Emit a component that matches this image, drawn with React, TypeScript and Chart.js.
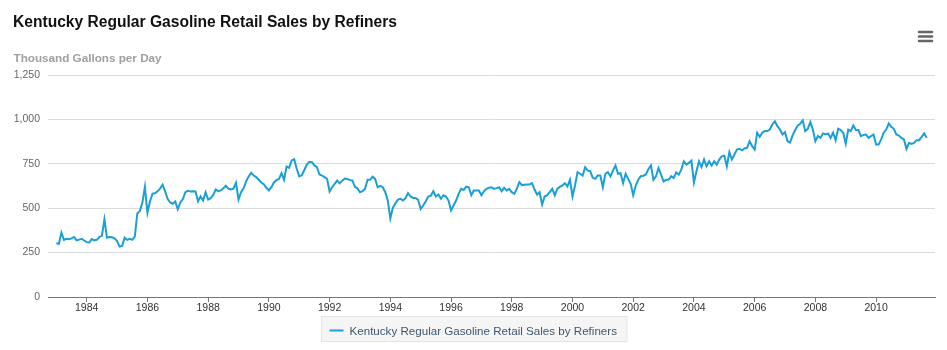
import React, { useEffect, useRef } from "react";
import { Chart, registerables } from "chart.js";

Chart.register(...registerables);

const TITLE = "Kentucky Regular Gasoline Retail Sales by Refiners";
const Y_TITLE = "Thousand Gallons per Day";
const SERIES_NAME = "Kentucky Regular Gasoline Retail Sales by Refiners";
const START_YEAR = 1983;
const Y_TICKS = [0, 250, 500, 750, 1000, 1250];
const X_TICK_YEARS = [1984, 1986, 1988, 1990, 1992, 1994, 1996, 1998, 2000, 2002, 2004, 2006, 2008, 2010];

// Monthly values, Jan 1983 onward (thousand gallons per day)
const V_1983_1986 = [
  303, 300, 363, 322, 328, 325, 330, 338, 319, 323, 328, 318,
  309, 307, 326, 319, 322, 338, 345, 437, 334, 338, 336, 330,
  315, 284, 288, 334, 322, 328, 322, 340, 470, 485, 530, 620,
  475, 538, 582, 584, 595, 610, 632, 595, 551, 532, 525, 538,
];
const V_1987_1990 = [
  494, 532, 551, 590, 598, 594, 596, 594, 539, 566, 543, 590,
  549, 556, 575, 605, 596, 600, 612, 626, 610, 605, 610, 643,
  549, 590, 612, 650, 679, 699, 684, 675, 660, 645, 635, 615,
  600, 618, 645, 658, 665, 697, 660, 735, 727, 769, 776, 722,
];
const V_1991_1994 = [
  679, 685, 715, 746, 761, 759, 741, 731, 690, 684, 675, 665,
  594, 618, 637, 656, 640, 655, 667, 665, 658, 656, 620, 612,
  590, 596, 609, 660, 660, 677, 665, 618, 626, 618, 590, 543,
  443, 502, 528, 548, 553, 543, 556, 585, 566, 558, 558, 547,
];
const V_1995_1998 = [
  496, 515, 539, 566, 570, 596, 566, 577, 553, 573, 566, 543,
  487, 515, 543, 581, 609, 603, 622, 618, 573, 600, 600, 600,
  573, 596, 609, 615, 618, 609, 613, 618, 596, 615, 600, 609,
  590, 581, 610, 647, 630, 632, 634, 634, 641, 605, 577, 590,
];
const V_1999_2002 = [
  521, 566, 573, 590, 609, 573, 609, 620, 628, 641, 622, 660,
  566, 628, 703, 694, 684, 731, 712, 709, 671, 665, 684, 684,
  618, 694, 703, 679, 712, 741, 694, 697, 641, 694, 665, 637,
  573, 628, 660, 680, 683, 690, 720, 741, 660, 679, 726, 689,
];
const V_2003_2006 = [
  651, 660, 660, 680, 670, 702, 689, 717, 764, 745, 755, 768,
  645, 708, 764, 732, 774, 736, 764, 740, 764, 745, 774, 792,
  796, 736, 815, 774, 802, 830, 834, 826, 836, 840, 877, 849,
  830, 925, 902, 925, 934, 934, 943, 972, 989, 962, 943, 915,
];
const V_2007_2011 = [
  928, 877, 870, 910, 940, 965, 975, 995, 934, 947, 985, 943,
  877, 906, 896, 921, 915, 921, 896, 925, 883, 947, 940, 925,
  864, 943, 934, 966, 940, 940, 906, 913, 915, 896, 906, 915,
  858, 858, 887, 925, 943, 977, 958, 947, 915, 909, 896, 887,
  834, 868, 862, 868, 883, 883, 902, 921, 896,
];

const LINE_COLOR = "#1a9fd6";
const FONT = '"Liberation Sans", Arial, Helvetica, sans-serif';

export default function App() {
  const ref = useRef<HTMLCanvasElement | null>(null);

  useEffect(() => {
    if (!ref.current) return;
    const values = [
      ...V_1983_1986,
      ...V_1987_1990,
      ...V_1991_1994,
      ...V_1995_1998,
      ...V_1999_2002,
      ...V_2003_2006,
      ...V_2007_2011,
    ];
    const points = values.map((v, i) => ({ x: START_YEAR + i / 12, y: v }));

    const decor = {
      id: "decor",
      afterDraw(chart: any) {
        const ctx = chart.ctx as CanvasRenderingContext2D;
        ctx.save();
        // Title
        ctx.font = `bold 15.6px ${FONT}`;
        ctx.fillStyle = "#111";
        ctx.textAlign = "left";
        ctx.textBaseline = "alphabetic";
        ctx.fillText(TITLE, 13, 27);
        // Y axis title
        ctx.font = `bold 11.7px ${FONT}`;
        ctx.fillStyle = "#a0a0a0";
        ctx.fillText(Y_TITLE, 13.5, 61.5);
        // Menu icon
        ctx.strokeStyle = "#666";
        ctx.lineWidth = 2.5;
        ctx.lineCap = "round";
        [32, 36.5, 41].forEach((y) => {
          ctx.beginPath();
          ctx.moveTo(919, y);
          ctx.lineTo(932, y);
          ctx.stroke();
        });
        // Legend
        ctx.font = `11.6px ${FONT}`;
        const tw = ctx.measureText(SERIES_NAME).width;
        const boxW = 28 + tw + 10;
        const cx = chart.width / 2;
        const bx = Math.round(cx - boxW / 2) + 0.5;
        const by = 316.5;
        ctx.fillStyle = "#f5f5f5";
        ctx.fillRect(bx, by, boxW, 25);
        ctx.strokeStyle = "#e4e4e4";
        ctx.lineWidth = 1;
        ctx.strokeRect(bx, by, boxW, 25);
        ctx.strokeStyle = LINE_COLOR;
        ctx.lineWidth = 2;
        ctx.lineCap = "butt";
        ctx.beginPath();
        ctx.moveTo(bx + 8, 330.5);
        ctx.lineTo(bx + 22, 330.5);
        ctx.stroke();
        ctx.fillStyle = "#3e576f";
        ctx.textBaseline = "alphabetic";
        ctx.fillText(SERIES_NAME, bx + 28, 335);
        ctx.restore();
      },
    };

    const chart = new Chart(ref.current, {
      type: "line",
      data: {
        datasets: [
          {
            label: SERIES_NAME,
            data: points,
            borderColor: LINE_COLOR,
            backgroundColor: LINE_COLOR,
            borderWidth: 2,
            pointRadius: 0,
            tension: 0,
            fill: false,
          },
        ],
      },
      options: {
        animation: false,
        responsive: false,
        devicePixelRatio: 1,
        parsing: false as any,
        layout: { padding: { top: 75, right: 12, bottom: 0, left: 0 } },
        plugins: {
          legend: { display: false },
          title: { display: false },
          tooltip: { enabled: false },
        },
        scales: {
          x: {
            type: "linear",
            min: 1982.725,
            max: 2011.94,
            afterFit: (s: any) => {
              s.height = 53;
            },
            afterBuildTicks: (s: any) => {
              s.ticks = X_TICK_YEARS.map((v) => ({ value: v }));
            },
            grid: {
              drawOnChartArea: false,
              drawTicks: true,
              tickLength: 5,
              color: "#777",
            },
            border: { display: true, color: "#777", width: 1 },
            ticks: {
              autoSkip: false,
              maxRotation: 0,
              padding: 0,
              color: "#333",
              font: { family: FONT, size: 10.5 },
              callback: (v: any) => String(v),
            },
          },
          y: {
            min: 0,
            max: 1250,
            afterFit: (s: any) => {
              s.width = 48;
            },
            afterBuildTicks: (s: any) => {
              s.ticks = Y_TICKS.map((v) => ({ value: v }));
            },
            grid: {
              drawTicks: false,
              color: "#dcdcdc",
              lineWidth: 1,
            },
            border: { display: false },
            ticks: {
              padding: 8,
              color: "#666",
              font: { family: FONT, size: 10.5 },
              callback: (v: any) => Number(v).toLocaleString("en-US"),
            },
          },
        },
      },
      plugins: [decor],
    });
    return () => chart.destroy();
  }, []);

  return (
    <div style={{ position: "absolute", left: 0, top: 0, width: 947, height: 350, background: "#fff" }}>
      <canvas ref={ref} width={947} height={350} style={{ display: "block" }} />
    </div>
  );
}
